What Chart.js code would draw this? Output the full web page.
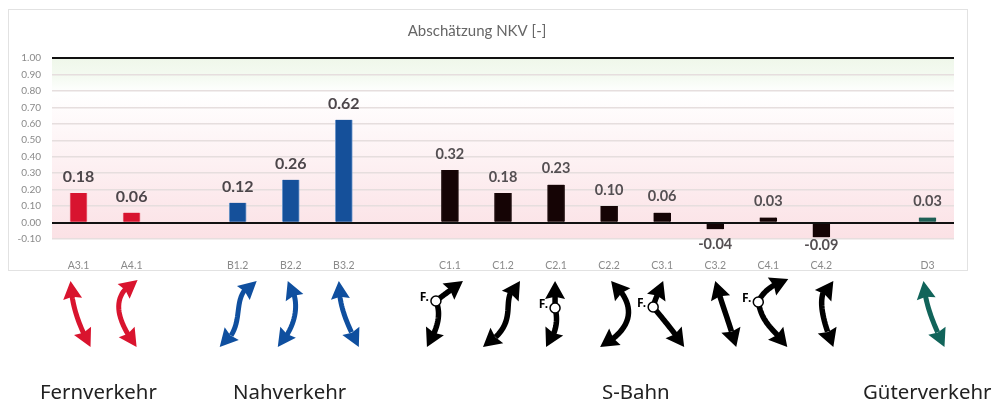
<!DOCTYPE html>
<html>
<head>
<meta charset="utf-8">
<script src="https://cdn.jsdelivr.net/npm/chart.js@4"></script>
<style>
  html, body { margin: 0; padding: 0; background: #fff; overflow: hidden; }
  body { width: 994px; height: 403px; position: relative; }
  #frame { position: absolute; left: 8px; top: 9px; width: 960px; height: 262px; border: 1px solid #e2e2e2; box-sizing: border-box; }
  #chart { position: absolute; left: 0; top: 0; }
  .caption { position: absolute; top: 377px; font: 20.4px "Noto Sans", sans-serif; color: #222; white-space: nowrap; }
</style>
</head>
<body>
<div id="frame"></div>
<canvas id="chart" width="956" height="403"></canvas>
<div class="caption" style="left:40px">Fernverkehr</div>
<div class="caption" style="left:233px">Nahverkehr</div>
<div class="caption" style="left:602px">S-Bahn</div>
<div class="caption" style="left:863px">Güterverkehr</div>
<script>
const titleText = "Abschätzung NKV [-]";
const categories = ["A3.1", "A4.1", "", "B1.2", "B2.2", "B3.2", "", "C1.1", "C1.2", "C2.1", "C2.2", "C3.1", "C3.2", "C4.1", "C4.2", "", "D3"];
const values = [0.18, 0.06, null, 0.12, 0.26, 0.624, null, 0.32, 0.18, 0.23, 0.10, 0.06, -0.04, 0.03, -0.09, null, 0.03];

const barColors = { A: "#d8142f", B: "#15509a", C: "#150405", D: "#1f5f55" };
const barEdges = { A: "#e9687b", B: "#6f98ca", C: "#150405", D: "#1f5f55" };
const arrowColors = { A: "#d9142e", B: "#0f4f9f", C: "#000000", D: "#11645a" };

// route sketches under the bars: x is relative to the category, y is page height
const arrows = [
  { cat: "A3.1", path: [-8,281, -7,305, 0,325, 12,347] },
  { cat: "A4.1", path: [6,280, -19,293, -19,315, 5,347] },
  { cat: "B1.2", path: [19,281, -12,295, 13,325, -18,347] },
  { cat: "B2.2", path: [-3,281, 10,300, 7,325, -13,347] },
  { cat: "B3.2", path: [-5,281, -5,305, 2,322, 15,347] },
  { cat: "C1.1", path: [13,281, 5,287, -5,294, -14,301, -8,315, -13,330, -23,347], fork: [-14,301] },
  { cat: "C1.2", path: [17,281, -8,300, 22,320, -20,347] },
  { cat: "C2.1", path: [-1,281, -1,290, -1,300, -1,308, 2,320, 1,332, -10,347], fork: [-1,308] },
  { cat: "C2.2", path: [2,281, 23,300, 31,325, -9,347] },
  { cat: "C3.1", path: [1,281, -2,290, -7,298, -9,307, 0,318, 12,332, 22,347], fork: [-9,307] },
  { cat: "C3.2", path: [0,281, 7,305, 13,320, 21,347] },
  { cat: "C4.1", path: [20,279, 2,285, -6,293, -10,302, -6,325, 7,330, 19,347], fork: [-10,302] },
  { cat: "C4.2", path: [12,281, -6,290, -1,315, 12,347] },
  { cat: "D3", path: [-4,281, -2,305, 5,322, 17,347] },
];

const FONT = "Lato, sans-serif";

function samplePath(p) {
  const pts = [[p[0], p[1]]];
  for (let i = 2; i + 5 < p.length; i += 6) {
    const x0 = p[i - 2], y0 = p[i - 1];
    for (let s = 1; s <= 24; s++) {
      const t = s / 24, u = 1 - t;
      pts.push([
        u*u*u*x0 + 3*u*u*t*p[i] + 3*u*t*t*p[i+2] + t*t*t*p[i+4],
        u*u*u*y0 + 3*u*u*t*p[i+1] + 3*u*t*t*p[i+3] + t*t*t*p[i+5],
      ]);
    }
  }
  return pts;
}

function drawHead(ctx, tip, from, len, half) {
  const d = Math.hypot(tip[0] - from[0], tip[1] - from[1]);
  const ux = (tip[0] - from[0]) / d, uy = (tip[1] - from[1]) / d;
  const bx = tip[0] - ux * len, by = tip[1] - uy * len;
  const nx = tip[0] - ux * len * 0.88, ny = tip[1] - uy * len * 0.88;
  ctx.beginPath();
  ctx.moveTo(tip[0], tip[1]);
  ctx.lineTo(bx - uy * half, by + ux * half);
  ctx.lineTo(nx, ny);
  ctx.lineTo(bx + uy * half, by - ux * half);
  ctx.closePath();
  ctx.fill();
}

const plotBackground = {
  id: "plotBackground",
  beforeDatasetsDraw(chart) {
    const { ctx, chartArea: a, scales: { y } } = chart;
    const g = ctx.createLinearGradient(0, y.getPixelForValue(1), 0, y.getPixelForValue(-0.1));
    g.addColorStop(0, "#eff7ea");
    g.addColorStop(0.1, "#f4faf1");
    g.addColorStop(0.19, "#ffffff");
    g.addColorStop(1, "#fbe1e5");
    ctx.save();
    ctx.globalCompositeOperation = "destination-over";
    ctx.fillStyle = g;
    ctx.fillRect(a.left, a.top, a.width, a.height);
    ctx.restore();
  },
};

const overlays = {
  id: "overlays",
  afterDatasetsDraw(chart) {
    const { ctx, chartArea: a, scales: { x, y } } = chart;
    ctx.save();
    // reference lines at 0 and 1 run over the bars
    ctx.strokeStyle = "#111";
    ctx.lineWidth = 2;
    [0, 1].forEach((v) => {
      const py = Math.round(y.getPixelForValue(v));
      ctx.beginPath();
      ctx.moveTo(a.left, py);
      ctx.lineTo(a.right, py);
      ctx.stroke();
    });

    // value labels
    ctx.textAlign = "center";
    ctx.textBaseline = "middle";
    chart.getDatasetMeta(0).data.forEach((bar, i) => {
      if (values[i] === null) return;
      const group = categories[i][0];
      const big = group === "A" || group === "B";
      ctx.font = (big ? "bold 16px " : "bold 14.5px ") + FONT;
      ctx.fillStyle = big ? "#4c464a" : "#544f52";
      const ly = values[i] >= 0 ? bar.y - 16 : Math.min(bar.y + 15, 245);
      ctx.fillText(values[i].toFixed(2), bar.x, ly);
    });

    // route arrows
    arrows.forEach((arrow) => {
      const cx = x.getPixelForValue(categories.indexOf(arrow.cat));
      const group = arrow.cat[0];
      const color = arrowColors[group];
      const pts = samplePath(arrow.path).map((p) => [p[0] + cx, p[1]]);
      const first = pts[0], last = pts[pts.length - 1];
      const headLen = 18, headHalf = group === "C" ? 10 : 9.5;
      const dist = (p, q) => Math.hypot(p[0] - q[0], p[1] - q[1]);
      const shaft = pts.filter((p) => dist(p, first) > headLen * 0.75 && dist(p, last) > headLen * 0.75);
      ctx.strokeStyle = color;
      ctx.fillStyle = color;
      ctx.lineWidth = group === "C" ? 5.5 : 5;
      ctx.lineJoin = "round";
      ctx.beginPath();
      shaft.forEach((p, i) => (i ? ctx.lineTo(p[0], p[1]) : ctx.moveTo(p[0], p[1])));
      ctx.stroke();
      drawHead(ctx, first, pts.find((p) => dist(p, first) >= headLen), headLen, headHalf);
      drawHead(ctx, last, [...pts].reverse().find((p) => dist(p, last) >= headLen), headLen, headHalf);
      if (arrow.fork) {
        const fx = cx + arrow.fork[0], fy = arrow.fork[1];
        ctx.beginPath();
        ctx.arc(fx, fy, 5, 0, Math.PI * 2);
        ctx.fillStyle = "#fff";
        ctx.fill();
        ctx.lineWidth = 1.5;
        ctx.stroke();
        ctx.fillStyle = "#000";
        ctx.font = "bold 12px 'Noto Sans', sans-serif";
        ctx.textAlign = "right";
        ctx.fillText("F.", fx - 7, fy - 3);
        ctx.textAlign = "center";
      }
    });
    ctx.restore();
  },
};

new Chart(document.getElementById("chart"), {
  type: "bar",
  data: {
    labels: categories,
    datasets: [{
      data: values,
      barThickness: 17,
      backgroundColor: categories.map((c) => barColors[c[0]] || "transparent"),
      borderColor: categories.map((c) => barEdges[c[0]] || "transparent"),
      borderWidth: { left: 1, right: 1, top: 0, bottom: 0 },
      borderSkipped: false,
    }],
  },
  plugins: [plotBackground, overlays],
  options: {
    responsive: false,
    animation: false,
    layout: { padding: { left: 0, right: 2, top: 0, bottom: 0 } },
    plugins: {
      legend: { display: false },
      tooltip: { enabled: false },
      title: {
        display: true,
        text: titleText,
        color: "#666666",
        font: { family: FONT, size: 15, weight: "normal" },
        padding: { top: 22, bottom: 18 },
      },
    },
    scales: {
      x: {
        offset: true,
        border: { display: false },
        grid: { display: false },
        ticks: {
          autoSkip: false,
          maxRotation: 0,
          padding: 12,
          color: "#8a8a8a",
          font: { family: FONT, size: 10.5 },
        },
        afterFit(scale) { scale.height = 164; },
      },
      y: {
        min: -0.1,
        max: 1,
        border: { display: false },
        grid: { color: "#e6dede", lineWidth: 1.5, drawTicks: false },
        ticks: {
          stepSize: 0.1,
          autoSkip: false,
          padding: 11,
          color: "#8a8a8a",
          font: { family: FONT, size: 10 },
          callback: (v) => v.toFixed(2),
        },
        afterFit(scale) { scale.width = 52; },
      },
    },
  },
});
</script>
</body>
</html>
